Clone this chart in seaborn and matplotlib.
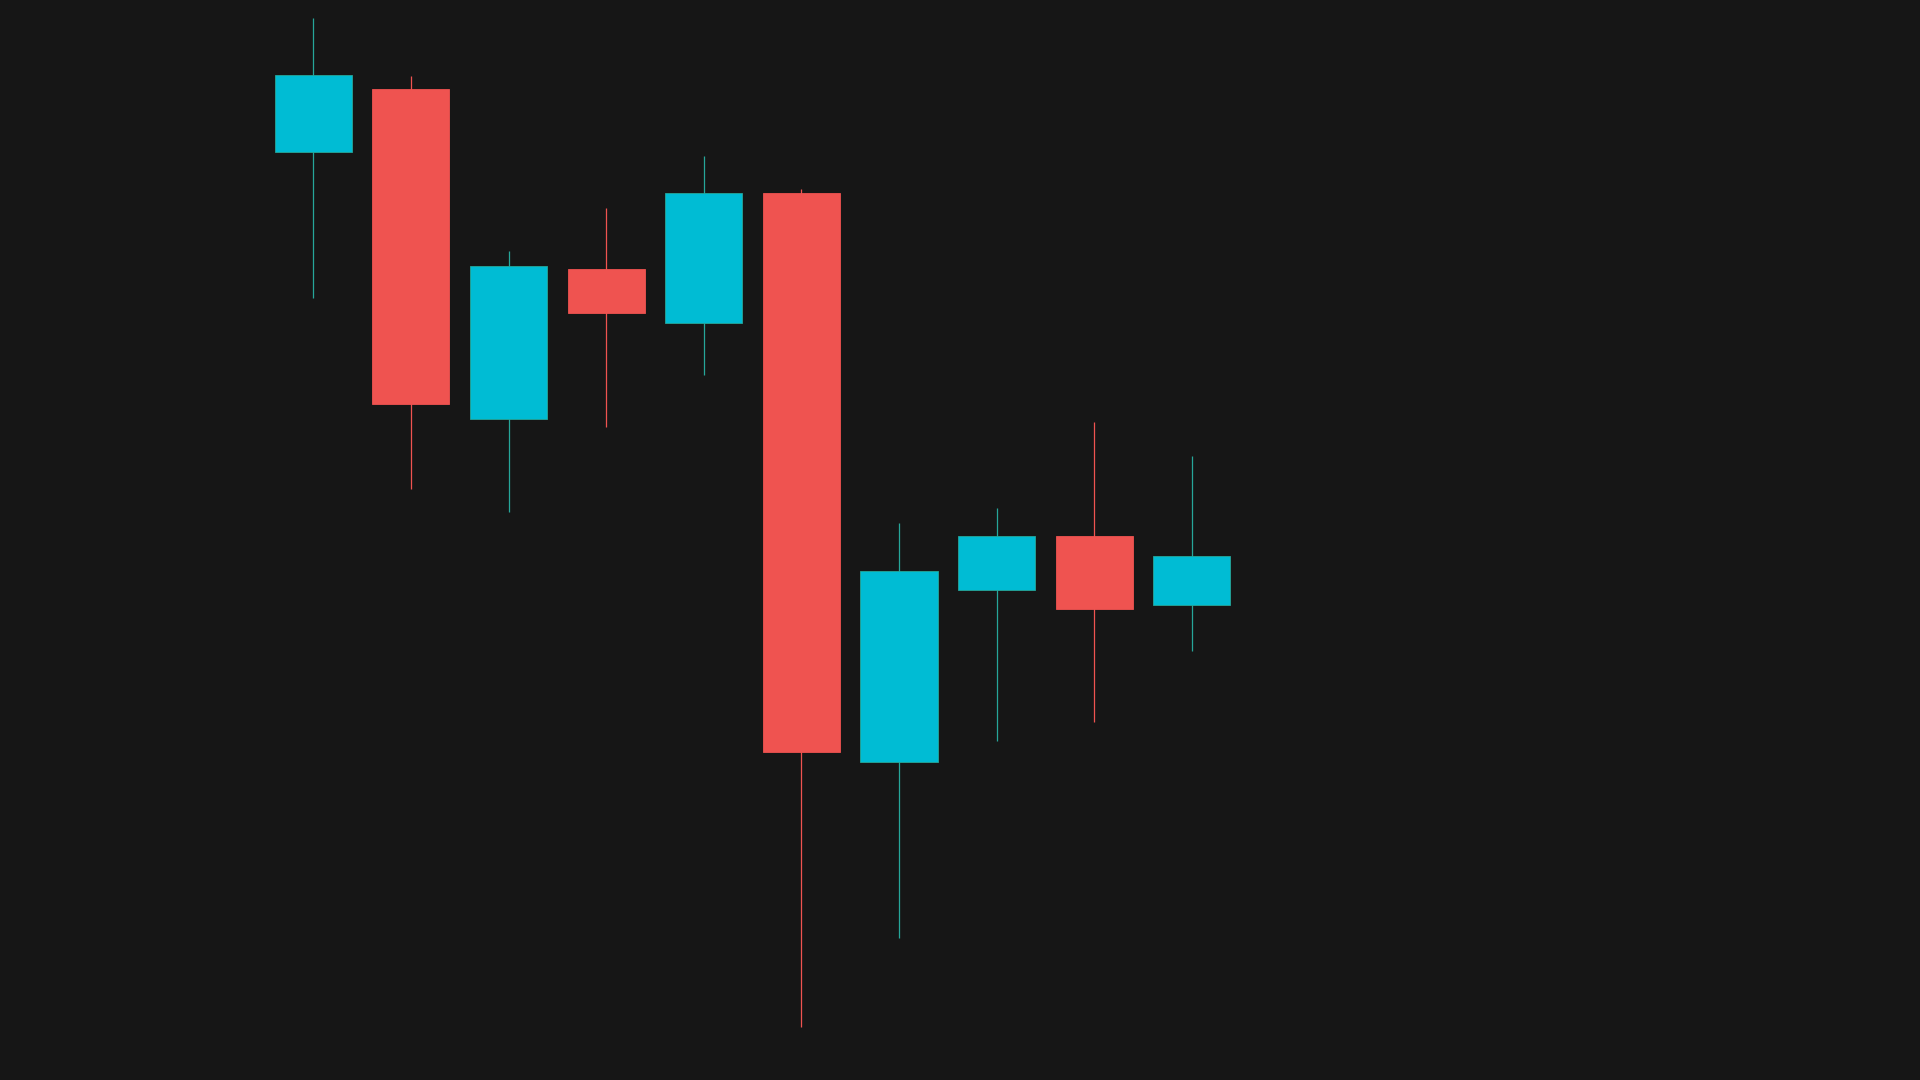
import seaborn as sns
import matplotlib.pyplot as plt
import numpy as np

# candle values
days = list(range(10))
opens = [107.6, 112.7, 85.8, 98.0, 93.6, 104.2, 57.8, 71.8, 76.2, 70.6]
highs = [118.5, 113.8, 99.5, 103.0, 107.3, 104.6, 77.3, 78.5, 85.5, 82.8]
lows = [95.7, 80.1, 78.2, 85.1, 89.4, 36.1, 43.4, 59.5, 61.0, 66.8]
closes = [113.9, 87.0, 98.3, 94.4, 104.2, 58.6, 73.4, 76.2, 70.3, 74.6]

bg = '#161616'
up_body, up_line = '#00BCD4', '#26A69A'
down_body, down_line = '#EF5350', '#EF5350'

sns.set_style('dark', {'axes.facecolor': bg, 'figure.facecolor': bg})

o = np.array(opens)
c = np.array(closes)
up = c >= o
body_col = [up_body if u else down_body for u in up]
line_col = [up_line if u else down_line for u in up]

fig = plt.figure(figsize=(19.2, 10.8), dpi=100)
ax = fig.add_axes([0, 0, 1, 1])
ax.set_facecolor(bg)

# wicks
ax.vlines(days, lows, highs, colors=line_col, linewidth=0.9, zorder=1)
# bodies
ax.bar(days, c - o, bottom=o, width=0.79, color=body_col,
       edgecolor=line_col, linewidth=0.6, zorder=2)

ax.set_xlim(-3.21, 16.46)
ax.set_ylim(31.8, 120)
ax.axis('off')

fig.savefig('out.png', dpi=100, facecolor=bg)
